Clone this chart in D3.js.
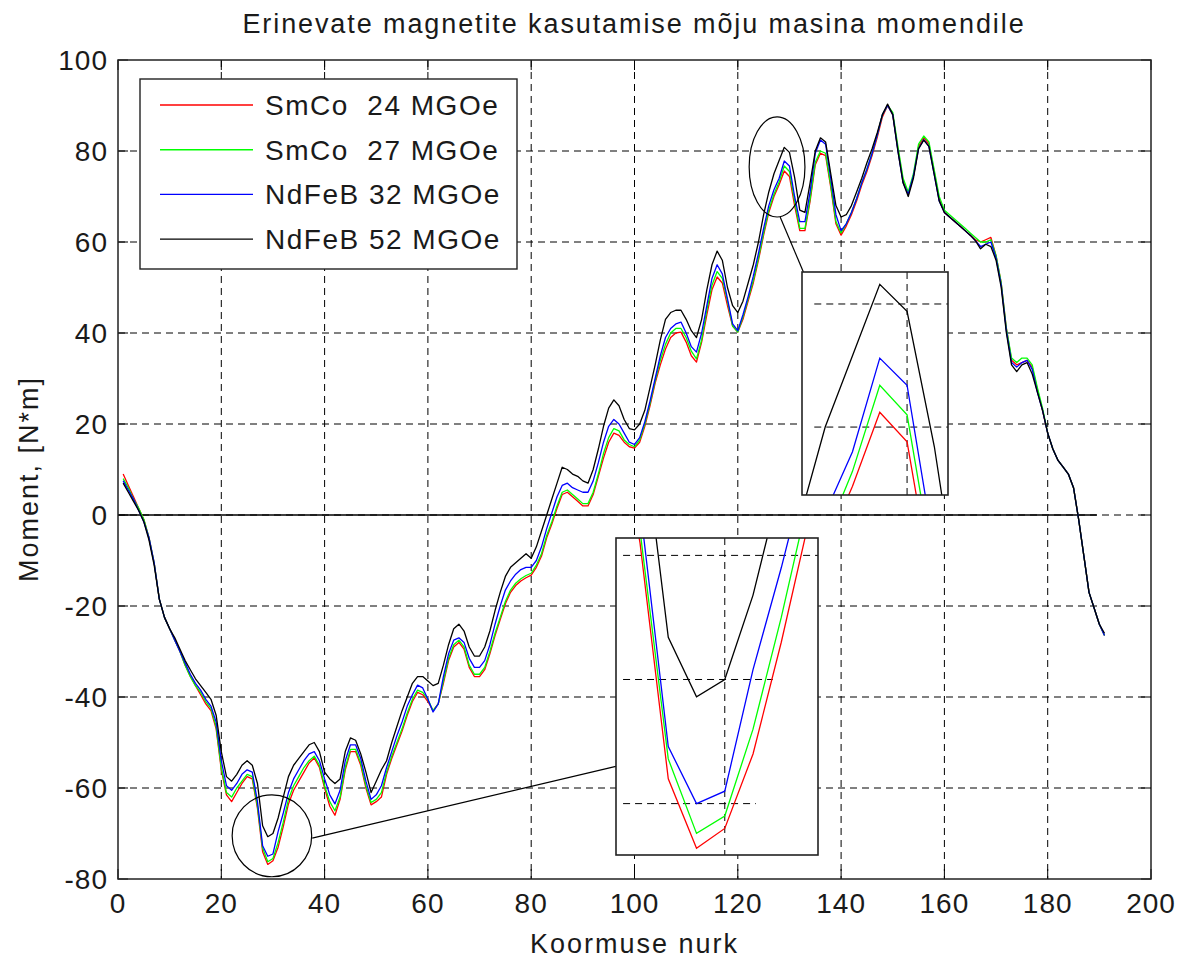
<!DOCTYPE html>
<html>
<head>
<meta charset="utf-8">
<script src="https://cdn.jsdelivr.net/npm/d3@7"></script>
<style>
  body { margin: 0; background: #fff; }
  svg text { font-family: "Liberation Sans", Arial, sans-serif; fill: #1a1a1a; }
</style>
</head>
<body>
<div id="chart"></div>
<script>
// load angle (deg) 1..191
const angles = [
  1,2,3,4,5,6,7,8,9,10,11,12,13,14,15,16,17,18,19,20,
  21,22,23,24,25,26,27,28,29,30,31,32,33,34,35,36,37,38,39,40,
  41,42,43,44,45,46,47,48,49,50,51,52,53,54,55,56,57,58,59,60,
  61,62,63,64,65,66,67,68,69,70,71,72,73,74,75,76,77,78,79,80,
  81,82,83,84,85,86,87,88,89,90,91,92,93,94,95,96,97,98,99,100,
  101,102,103,104,105,106,107,108,109,110,111,112,113,114,115,116,117,118,119,120,
  121,122,123,124,125,126,127,128,129,130,131,132,133,134,135,136,137,138,139,140,
  141,142,143,144,145,146,147,148,149,150,151,152,153,154,155,156,157,158,159,160,
  161,162,163,164,165,166,167,168,169,170,171,172,173,174,175,176,177,178,179,180,
  181,182,183,184,185,186,187,188,189,190,191
];

const smco24 = [
  9,6.5,4,1.5,-1,-5,-10.5,-18.5,-22.5,-25,-27.5,-30,-33,-35.5,-37.5,-39.5,-41.5,-43,-47,-56,
  -61.5,-63,-61,-59,-57.5,-58,-64.5,-74,-76.8,-76,-73,-68.5,-63.5,-60.5,-58.5,-56.5,-54.5,-53.4,-55.5,-60,
  -64,-66,-62.5,-56,-52,-52,-55,-60,-63.7,-63,-62,-57,-53.5,-50.5,-47.5,-44,-41,-39,-39.5,-41,
  -43,-41.5,-37,-32,-29,-28,-29.5,-33.5,-35.5,-35.5,-34,-30.5,-26.5,-23,-19.5,-17,-15.5,-14.5,-13.8,-13.2,
  -11.5,-9,-5,-2,1.5,4.5,5,4,3,2,2,4.5,8.5,12.5,16,18,17.5,16,15,14.7,
  16,19.5,24,29,33,36.5,39,40,40.2,38,35,33.6,38,44,49.5,52.3,51,46,41.5,40.2,
  43,47,51,56,61.5,66.5,70,72.6,75.6,74.4,68,62.5,62.5,69,77,79.5,79,72,64,61.5,
  63.5,66,69,72.5,75.5,79,83,87.5,90,88,80.5,73.5,70.5,74.5,81,83,81.5,75.5,69.5,66.5,
  65.5,64.5,63.5,62.5,61.5,60.5,60,60.5,61,57,51,41,34,33,33.5,34,32.5,27.5,23,18,
  14.5,12,10.5,9,6,-1,-9,-17,-20.5,-24,-26.5
];

const smco27 = [
  8,6,3.5,1.5,-1,-5,-10.5,-18.5,-22.5,-25,-27.5,-30,-33,-35.5,-37.5,-39,-41,-42.5,-46.5,-55.5,
  -61,-62,-60,-58.5,-57,-57.5,-64,-73.2,-76.2,-75.5,-72,-67.5,-62.5,-59.5,-57.5,-55.5,-54,-53,-55,-59.5,
  -63,-65,-62,-55.5,-51.5,-51.5,-54.5,-59.5,-63.2,-62.5,-61,-56.5,-53,-50,-47,-43.5,-40.5,-38.5,-39,-40.5,
  -43,-41.5,-36.5,-31.5,-28.5,-27.5,-29,-33,-35,-35,-33.5,-30,-26,-22.5,-19,-16.5,-15,-14,-13.3,-12.8,
  -11,-8.5,-4.5,-1.5,2,5,5.5,4.5,3.5,2.5,2.5,5,9,13.5,17,19,18.5,16.5,15.5,15,
  16.5,20,24.5,29.5,34,37.5,40,41,41,39,36,34.3,38.5,45,50.5,53.5,52,47,41.5,40.2,
  43.5,47.5,51.5,56.5,62,67,70.5,73.2,76.7,75.5,69,63,63,69.5,77.5,80,79.5,72.5,64.5,62,
  64,66.5,69.5,73,76,79.5,83.5,88,90,88.5,81,74,71,75,81.5,83.3,82,76,70,67,
  66,65,64,63,62,61,60,60,60.5,57,51,41,34.5,33.5,34.5,34.5,33,28,23.5,18,
  14.5,12,10.5,9,6,-1,-9,-17,-20.5,-24,-26.5
];

const ndfeb32 = [
  7.5,5.5,3.5,1,-1.5,-5,-10.5,-18.5,-22.5,-25,-27.5,-30,-32.5,-35,-37,-38.5,-40.5,-42,-45.5,-54,
  -59.5,-60.5,-59,-57,-56,-56.5,-63,-72.7,-75,-74.5,-69.6,-65.5,-61,-58,-56,-54,-52.5,-52,-54,-58,
  -61.5,-63.5,-60.5,-54,-50.5,-50.5,-53.5,-58.5,-62.5,-61.5,-59.5,-55.5,-52,-48.5,-45.5,-42,-39.5,-37.4,-38,-40.5,
  -43.3,-41.5,-35.5,-30.5,-27.5,-27,-28,-31.5,-33.5,-33.5,-32,-28.5,-24,-20,-16.5,-14.5,-13,-12,-11.5,-11.5,
  -10,-7,-3,0.5,4,6.5,7,6,5.5,5,5,7.5,11.5,16,19.5,21,20,18,16,15.5,
  17,20.5,25,30,35,39,41,42,42.4,40,37,35.8,40,46,52,55,53,47.5,42,40.5,
  44,48,52.5,57.5,63,68,71.5,74,77.8,76.7,70,64.5,64.5,71,79.5,82.4,81.5,74,66,62.5,
  64,66.5,69.5,73,76,79.5,83.5,88,90,88,80,73,70.5,74.5,80.5,82.5,81,75,69,66.5,
  65.5,64.5,63.5,62.5,61.5,60.3,59,59.5,60,56.5,50.5,40.5,33.5,32.5,33.5,34,32,27,23,18,
  14.5,12,10.5,9,6,-1,-9,-17,-20.5,-24,-26.5
];

const ndfeb52 = [
  7,5,3,1,-1.5,-5.5,-11,-18.5,-22.5,-25,-27,-29.5,-32,-34,-36,-37.5,-39,-40.5,-44,-52,
  -57.5,-58.5,-57,-55,-54,-55,-59,-68.3,-70.7,-70,-66.6,-62,-57.5,-55,-53.5,-52,-50.5,-50,-52,-56.5,
  -58,-59,-58,-52,-49,-49.5,-52.5,-56.5,-61,-58.5,-56,-54,-50,-46.5,-43,-40,-37,-35.5,-35.5,-36.5,
  -37.5,-37,-33,-28.5,-25,-24,-25.5,-29,-31,-31,-29,-25.5,-21,-17,-13.5,-11.5,-10.5,-9.5,-8.5,-9.5,
  -7,-3.5,0,3.5,7,10.5,10,9,8.5,7.5,7,10,14.5,19.5,23.5,25.3,24,21,19,18.7,
  20,23,28,33,38.5,43,44.5,45,45,43,40.5,39,43,49.5,55,58,56,50,46,44.5,
  47,51,55,60,66,71,75,77.9,80.8,79.7,74.2,67,66.5,73,80,82.9,82,75,68,65.5,
  66,68,71,74,77.4,80.5,84,88,90.3,88,80,73,70,74,80.5,82.4,81,75,69,66.5,
  65.5,64.5,63.5,62.5,61.5,60.3,58.5,59.5,59,56,50,40,33,31.5,33,33.5,31,27,23,18,
  14.5,12,10.5,9,6,-1,-9,-17,-20.5,-24,-26
];

const seriesNames = ["SmCo  24 MGOe", "SmCo  27 MGOe", "NdFeB 32 MGOe", "NdFeB 52 MGOe"];
const seriesColors = ["#ff0000", "#00ff00", "#0000ff", "#000000"];
const seriesValues = [smco24, smco27, ndfeb32, ndfeb52];

const xTicks = [0, 20, 40, 60, 80, 100, 120, 140, 160, 180, 200];
const yTicks = [-80, -60, -40, -20, 0, 20, 40, 60, 80, 100];

const titleText = "Erinevate magnetite kasutamise mõju masina momendile";
const xLabel = "Koormuse nurk";
const yLabel = "Moment, [N*m]";

// zoomed detail views: data window + grid values
const insetLow = { xDomain: [26.15, 33.3], yDomain: [-77.07, -64.3], xGrid: [30],
  yGrid: [[-65, 26.4, 33.3], [-70, 26.4, 31.7], [-75, 26.4, 31.1]] };
const insetHigh = { xDomain: [126.15, 131.5], yDomain: [72.24, 81.3], xGrid: [130],
  yGrid: [[80, 126.6, 131.5], [75, 126.6, 131.5]] };

// markers in main-axes data units
const ellipseLow = { cx: 29.8, cy: -70.5, rx: 7.7, ry: 9.0 };
const ellipseHigh = { cx: 127.6, cy: 76.5, rx: 5.4, ry: 11.0 };
const connectLow = [[37.6, -71.0], [96.6, -55.2]];
const connectHigh = [[128.2, 65.5], [132.7, 53.4]];
const zeroLine = [0, 189.5];

const width = 1186, height = 960;
const margin = { left: 118, right: 35, top: 60, bottom: 81 };

const svg = d3.select("#chart").append("svg")
  .attr("width", width).attr("height", height);

const x = d3.scaleLinear().domain([0, 200]).range([margin.left, width - margin.right]);
const y = d3.scaleLinear().domain([-80, 100]).range([height - margin.bottom, margin.top]);

const pts = seriesValues.map(vals => angles.map((a, i) => [a, vals[i]]));

// grid
const dash = "7,5";
svg.append("g").selectAll("line").data(xTicks.slice(1, -1)).join("line")
  .attr("x1", d => x(d)).attr("x2", d => x(d))
  .attr("y1", y(100)).attr("y2", y(-80))
  .attr("stroke", "#000").attr("stroke-dasharray", dash);
svg.append("g").selectAll("line").data(yTicks.slice(1, -1)).join("line")
  .attr("x1", x(0)).attr("x2", x(200))
  .attr("y1", d => y(d)).attr("y2", d => y(d))
  .attr("stroke", "#000").attr("stroke-dasharray", dash);

// ticks on all sides, pointing in
const tl = 10;
const ticks = svg.append("g").attr("stroke", "#000");
xTicks.forEach(t => {
  ticks.append("line").attr("x1", x(t)).attr("x2", x(t)).attr("y1", y(-80)).attr("y2", y(-80) - tl);
  ticks.append("line").attr("x1", x(t)).attr("x2", x(t)).attr("y1", y(100)).attr("y2", y(100) + tl);
});
yTicks.forEach(t => {
  ticks.append("line").attr("x1", x(0)).attr("x2", x(0) + tl).attr("y1", y(t)).attr("y2", y(t));
  ticks.append("line").attr("x1", x(200)).attr("x2", x(200) - tl).attr("y1", y(t)).attr("y2", y(t));
});

// zero line
svg.append("line")
  .attr("x1", x(zeroLine[0])).attr("x2", x(zeroLine[1]))
  .attr("y1", y(0)).attr("y2", y(0))
  .attr("stroke", "#000").attr("stroke-width", 1.3);

// curves
const line = d3.line().x(d => x(d[0])).y(d => y(d[1]));
svg.append("g").selectAll("path").data(pts).join("path")
  .attr("d", line).attr("fill", "none")
  .attr("stroke", (d, i) => seriesColors[i]).attr("stroke-width", 1.3)
  .attr("stroke-linejoin", "round");

// frame
svg.append("rect")
  .attr("x", x(0)).attr("y", y(100))
  .attr("width", x(200) - x(0)).attr("height", y(-80) - y(100))
  .attr("fill", "none").attr("stroke", "#222").attr("stroke-width", 1.5);

// tick labels
svg.append("g").selectAll("text").data(xTicks).join("text")
  .attr("x", d => x(d)).attr("y", y(-80) + 34)
  .attr("text-anchor", "middle").attr("font-size", 28).attr("letter-spacing", 1)
  .text(d => d);
svg.append("g").selectAll("text").data(yTicks).join("text")
  .attr("x", x(0) - 10).attr("y", d => y(d) + 10)
  .attr("text-anchor", "end").attr("font-size", 28).attr("letter-spacing", 1)
  .text(d => d);

// labels
svg.append("text").attr("x", 634).attr("y", 33).attr("text-anchor", "middle")
  .attr("font-size", 27).attr("letter-spacing", 1.9).text(titleText);
svg.append("text").attr("x", x(100)).attr("y", 953).attr("text-anchor", "middle")
  .attr("font-size", 27).attr("letter-spacing", 2).text(xLabel);
svg.append("text").attr("transform", `translate(38,479) rotate(-90)`)
  .attr("text-anchor", "middle").attr("font-size", 27).attr("letter-spacing", 2).text(yLabel);

// ellipses and connectors
[ellipseLow, ellipseHigh].forEach(e => {
  svg.append("ellipse")
    .attr("cx", x(e.cx)).attr("cy", y(e.cy))
    .attr("rx", x(e.rx) - x(0)).attr("ry", y(0) - y(e.ry))
    .attr("fill", "none").attr("stroke", "#000").attr("stroke-width", 1.2);
});
[connectLow, connectHigh].forEach(c => {
  svg.append("line")
    .attr("x1", x(c[0][0])).attr("y1", y(c[0][1]))
    .attr("x2", x(c[1][0])).attr("y2", y(c[1][1]))
    .attr("stroke", "#000").attr("stroke-width", 1.2);
});

// detail views
function drawInset(cfg, box, id) {
  const ix = d3.scaleLinear().domain(cfg.xDomain).range([box.x0, box.x1]);
  const iy = d3.scaleLinear().domain(cfg.yDomain).range([box.y1, box.y0]);
  svg.append("clipPath").attr("id", id).append("rect")
    .attr("x", box.x0).attr("y", box.y0)
    .attr("width", box.x1 - box.x0).attr("height", box.y1 - box.y0);
  const g = svg.append("g");
  g.append("rect").attr("x", box.x0).attr("y", box.y0)
    .attr("width", box.x1 - box.x0).attr("height", box.y1 - box.y0)
    .attr("fill", "#fff");
  const inner = g.append("g").attr("clip-path", `url(#${id})`);
  cfg.xGrid.forEach(v => inner.append("line")
    .attr("x1", ix(v)).attr("x2", ix(v)).attr("y1", box.y0).attr("y2", box.y1)
    .attr("stroke", "#000").attr("stroke-dasharray", dash));
  cfg.yGrid.forEach(v => inner.append("line")
    .attr("x1", ix(v[1])).attr("x2", ix(v[2])).attr("y1", iy(v[0])).attr("y2", iy(v[0]))
    .attr("stroke", "#000").attr("stroke-dasharray", dash));
  const il = d3.line().x(d => ix(d[0])).y(d => iy(d[1]));
  inner.selectAll("path.s").data(pts).join("path")
    .attr("d", il).attr("fill", "none")
    .attr("stroke", (d, i) => seriesColors[i]).attr("stroke-width", 1.3);
  g.append("rect").attr("x", box.x0).attr("y", box.y0)
    .attr("width", box.x1 - box.x0).attr("height", box.y1 - box.y0)
    .attr("fill", "none").attr("stroke", "#222").attr("stroke-width", 1.6);
}
drawInset(insetLow, { x0: 616, x1: 818, y0: 538, y1: 855 }, "clipLow");
drawInset(insetHigh, { x0: 802, x1: 948, y0: 272, y1: 495 }, "clipHigh");

// legend
const leg = svg.append("g");
leg.append("rect").attr("x", 140).attr("y", 79).attr("width", 377).attr("height", 190)
  .attr("fill", "#fff").attr("stroke", "#222").attr("stroke-width", 1.4);
seriesNames.forEach((name, i) => {
  const ly = 105 + i * 44.7;
  leg.append("line").attr("x1", 160).attr("x2", 253).attr("y1", ly).attr("y2", ly)
    .attr("stroke", seriesColors[i]).attr("stroke-width", 1.4);
  leg.append("text").attr("x", 265).attr("y", ly + 10).attr("font-size", 28)
    .attr("letter-spacing", 1.5).style("white-space", "pre").text(name);
});
</script>
</body>
</html>
